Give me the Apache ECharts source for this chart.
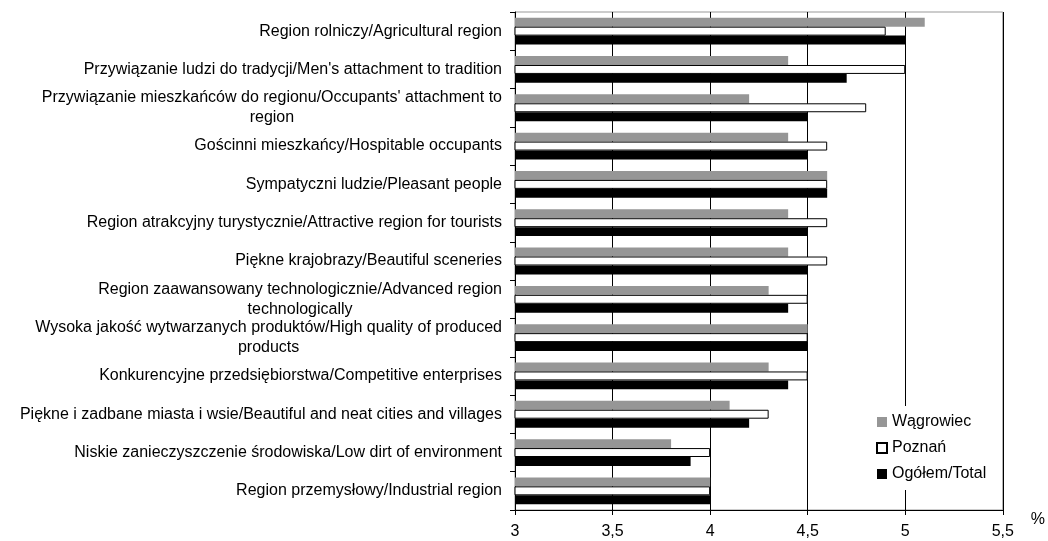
<!DOCTYPE html>
<html><head><meta charset="utf-8">
<script src="https://cdn.jsdelivr.net/npm/echarts@6/dist/echarts.min.js"></script>
<style>html,body{margin:0;padding:0;background:#fff}#c{width:1048px;height:541px}</style>
</head><body><div id="c"></div>
<script>
var categories = [
  "Region rolniczy/Agricultural region",
  "Przywiązanie ludzi do tradycji/Men's attachment to tradition",
  "Przywiązanie mieszkańców do regionu/Occupants' attachment to\nregion",
  "Gościnni mieszkańcy/Hospitable occupants",
  "Sympatyczni ludzie/Pleasant people",
  "Region atrakcyjny turystycznie/Attractive region for tourists",
  "Piękne krajobrazy/Beautiful sceneries",
  "Region zaawansowany technologicznie/Advanced region\ntechnologically",
  "Wysoka jakość wytwarzanych produktów/High quality of produced\nproducts",
  "Konkurencyjne przedsiębiorstwa/Competitive enterprises",
  "Piękne i zadbane miasta i wsie/Beautiful and neat cities and villages",
  "Niskie zanieczyszczenie środowiska/Low dirt of environment",
  "Region przemysłowy/Industrial region"
];
var wagrowiec = [5.1, 4.4, 4.2, 4.4, 4.6, 4.4, 4.4, 4.3, 4.5, 4.3, 4.1, 3.8, 4.0];
var poznan    = [4.9, 5.0, 4.8, 4.6, 4.6, 4.6, 4.6, 4.5, 4.5, 4.5, 4.3, 4.0, 4.0];
var total     = [5.0, 4.7, 4.5, 4.5, 4.6, 4.5, 4.5, 4.4, 4.5, 4.4, 4.2, 3.9, 4.0];
var seriesNames = ["Wągrowiec", "Poznań", "Ogółem/Total"];
var xTicks = {min: 3, max: 5.5, interval: 0.5};

var chart = echarts.init(document.getElementById('c'), null, {renderer: 'canvas'});
var font = 'Liberation Sans, Arial, sans-serif';
chart.setOption({
  animation: false,
  textStyle: {fontFamily: font},
  grid: {left: 515, right: 43, top: 12, bottom: 31, show: true, borderColor: '#999', borderWidth: 1},
  legend: {
    orient: 'vertical', left: 868, top: 406,
    itemWidth: 10, itemHeight: 10, itemGap: 10,
    padding: [8, 8, 8, 8],
    backgroundColor: '#fff',
    textStyle: {fontFamily: font, fontSize: 16, color: '#000', lineHeight: 16},
    data: seriesNames.map(function(n){return {name: n, icon: 'rect'};})
  },
  xAxis: {
    type: 'value', min: xTicks.min, max: xTicks.max, interval: xTicks.interval,
    name: '%', nameLocation: 'end', nameGap: 28,
    nameTextStyle: {fontFamily: font, fontSize: 16, color: '#000', verticalAlign: 'top', padding: [2, 0, 0, 0]},
    axisLine: {show: true, lineStyle: {color: '#000', width: 1}},
    axisTick: {show: true, length: 5, lineStyle: {color: '#000'}},
    axisLabel: {color: '#000', fontSize: 16, fontFamily: font, margin: 14,
      formatter: function(v){return String(v).replace('.', ',');}},
    splitLine: {show: true, lineStyle: {color: '#000', width: 1}}
  },
  yAxis: {
    type: 'category', inverse: true, data: categories,
    axisLine: {show: true, lineStyle: {color: '#000', width: 1}},
    axisTick: {show: true, length: 5, lineStyle: {color: '#000'}},
    axisLabel: {color: '#000', fontSize: 16, fontFamily: font, margin: 13, lineHeight: 20,
      formatter: function(v){return v.split('\n').map(function(l){return '{c|' + l + '}';}).join('\n');},
      rich: {c: {align: 'center', fontSize: 16, fontFamily: font, color: '#000', lineHeight: 20}}
    },
    splitLine: {show: false}
  },
  series: [
    {name: seriesNames[0], type: 'bar', data: wagrowiec, barGap: '0%', barCategoryGap: '30%',
      itemStyle: {color: '#969696'}},
    {name: seriesNames[1], type: 'bar', data: poznan, barGap: '0%', barCategoryGap: '30%',
      itemStyle: {color: '#fff', borderColor: '#000', borderWidth: 1}},
    {name: seriesNames[2], type: 'bar', data: total, barGap: '0%', barCategoryGap: '30%',
      itemStyle: {color: '#000'}}
  ]
});
</script></body></html>
